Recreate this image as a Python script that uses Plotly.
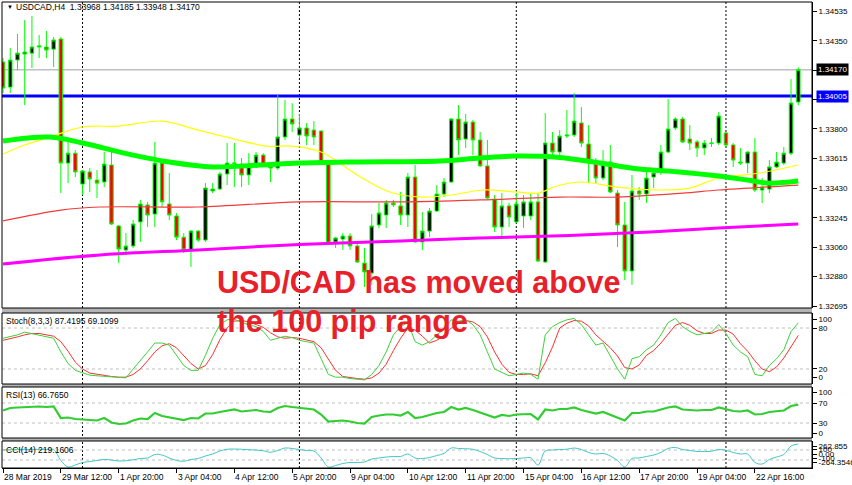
import plotly.graph_objects as go

# ---------------- data ----------------
bars = list(range(111))
opens = [1.34218,1.34061,1.34230,1.34267,1.34273,1.34311,1.34311,1.34298,1.34361,1.33587,
         1.33649,1.33456,1.33532,1.33481,1.33469,1.33575,1.33195,1.33045,1.33070,1.33220,
         1.33326,1.33269,1.33587,1.33332,1.33257,1.33125,1.33045,1.33163,1.33107,1.33413,
         1.33425,1.33519,1.33584,1.33581,1.33513,1.33563,1.33637,1.33569,1.33556,1.33750,
         1.33862,1.33762,1.33806,1.33793,1.33787,1.33587,1.33095,1.33113,1.33132,1.33070,
         1.32963,1.32901,1.33201,1.33263,1.33338,1.33320,1.33263,1.33500,1.33095,1.33163,
         1.33288,1.33394,1.33469,1.33862,1.33737,1.33843,1.33731,1.33569,1.33363,1.33188,
         1.33320,1.33220,1.33257,1.33257,1.33345,1.32970,1.33712,1.33656,1.33756,1.33762,
         1.33837,1.33706,1.33587,1.33494,1.33594,1.33400,1.33201,1.32914,1.33413,1.33394,
         1.33500,1.33538,1.33656,1.33806,1.33862,1.33737,1.33719,1.33681,1.33709,1.33712,
         1.33775,1.33700,1.33594,1.33587,1.33656,1.33419,1.33425,1.33563,1.33587,1.33649,
         1.33968]
highs = [1.34242,1.34305,1.34392,1.34479,1.34505,1.34386,1.34411,1.34373,1.34373,1.33731,
         1.33668,1.33544,1.33556,1.33544,1.33656,1.33681,1.33201,1.33150,1.33232,1.33357,
         1.33345,1.33719,1.33594,1.33525,1.33275,1.33150,1.33169,1.33169,1.33462,1.33462,
         1.33532,1.33712,1.33712,1.33619,1.33649,1.33656,1.33649,1.33575,1.34012,1.33980,
         1.33961,1.33893,1.33837,1.33849,1.33790,1.33590,1.33125,1.33150,1.33150,1.33088,
         1.33057,1.33269,1.33338,1.33357,1.33357,1.33407,1.33525,1.33575,1.33282,1.33307,
         1.33450,1.33494,1.33868,1.33949,1.33893,1.33856,1.33781,1.33731,1.33388,1.33400,
         1.33338,1.33400,1.33388,1.33400,1.33400,1.33899,1.33781,1.33793,1.33918,1.34024,
         1.33937,1.33824,1.33619,1.33668,1.33700,1.33419,1.33345,1.33513,1.33437,1.33532,
         1.33556,1.33700,1.33987,1.33874,1.33874,1.33824,1.33731,1.33731,1.33743,1.33905,
         1.33781,1.33712,1.33681,1.33660,1.33743,1.33494,1.33606,1.33656,1.33687,1.34111,
         1.34185]
lows = [1.34024,1.34024,1.34167,1.33949,1.34180,1.34242,1.34242,1.34186,1.33400,1.33462,
        1.33500,1.33388,1.33407,1.33369,1.33437,1.33201,1.32963,1.33014,1.33057,1.33095,
        1.33188,1.33188,1.33313,1.33232,1.33107,1.33026,1.32939,1.33095,1.33095,1.33400,
        1.33419,1.33450,1.33437,1.33437,1.33450,1.33556,1.33563,1.33469,1.33544,1.33731,
        1.33781,1.33719,1.33700,1.33700,1.33587,1.33076,1.33057,1.33045,1.33045,1.32963,
        1.32814,1.32827,1.33182,1.33182,1.33313,1.33201,1.33188,1.33090,1.33045,1.33125,
        1.33282,1.33375,1.33462,1.33637,1.33681,1.33637,1.33565,1.33363,1.33157,1.33120,
        1.33188,1.33213,1.33182,1.33232,1.32970,1.32963,1.33637,1.33637,1.33743,1.33750,
        1.33687,1.33462,1.33462,1.33481,1.33400,1.33063,1.32858,1.32827,1.33357,1.33338,
        1.33431,1.33513,1.33649,1.33793,1.33712,1.33668,1.33625,1.33637,1.33687,1.33700,
        1.33687,1.33563,1.33575,1.33525,1.33407,1.33338,1.33400,1.33556,1.33575,1.33637,
        1.33948]
closes = [1.34055,1.34230,1.34273,1.34280,1.34311,1.34318,1.34292,1.34355,1.33587,1.33649,
          1.33532,1.33538,1.33488,1.33462,1.33581,1.33207,1.33051,1.33070,1.33207,1.33332,
          1.33263,1.33587,1.33345,1.33263,1.33125,1.33045,1.33163,1.33107,1.33431,1.33425,
          1.33519,1.33587,1.33587,1.33513,1.33569,1.33637,1.33569,1.33556,1.33750,1.33862,
          1.33831,1.33806,1.33756,1.33750,1.33594,1.33088,1.33120,1.33132,1.33070,1.32970,
          1.32908,1.33195,1.33276,1.33338,1.33326,1.33263,1.33500,1.33095,1.33163,1.33288,
          1.33394,1.33469,1.33862,1.33731,1.33843,1.33731,1.33569,1.33369,1.33188,1.33320,
          1.33251,1.33332,1.33345,1.33345,1.32976,1.33712,1.33656,1.33756,1.33762,1.33849,
          1.33712,1.33587,1.33494,1.33594,1.33407,1.33201,1.32914,1.33413,1.33394,1.33494,
          1.33525,1.33656,1.33800,1.33862,1.33719,1.33712,1.33681,1.33712,1.33712,1.33881,
          1.33700,1.33606,1.33587,1.33656,1.33419,1.33437,1.33563,1.33594,1.33649,1.33962,
          1.34170]

# moving averages, read at sample bars
ma_green_x = [0, 6.5, 11, 18, 23, 29, 35.5, 41, 48.4, 60.4, 66, 71, 77, 82.6, 88, 93.6, 99, 103, 106, 110]
ma_green_y = [1.33725,1.33750,1.33712,1.33637,1.33594,1.33563,1.33575,1.33587,1.33594,1.33600,
              1.33619,1.33631,1.33622,1.33587,1.33550,1.33532,1.33506,1.33481,1.33462,1.33475]
ma_yellow_x = [0, 3, 6.5, 11, 16, 22, 27, 32, 36.5, 40, 44, 49, 53.5, 58, 62, 66.4, 71, 74, 76.6, 80, 85, 91, 95, 99, 104.7, 110]
ma_yellow_y = [1.33644,1.33700,1.33750,1.33812,1.33818,1.33849,1.33793,1.33737,1.33693,1.33693,
               1.33656,1.33513,1.33407,1.33375,1.33388,1.33419,1.33407,1.33400,1.33444,1.33469,
               1.33437,1.33419,1.33431,1.33494,1.33525,1.33575]
ma_red_x = [0, 8, 13.4, 27, 41, 55, 66, 77, 85, 94, 99, 110]
ma_red_y = [1.33226,1.33294,1.33313,1.33313,1.33345,1.33345,1.33357,1.33375,1.33375,1.33400,1.33419,1.33450]
ma_magenta_x = [0, 13.4, 27, 41, 55, 66, 78.4, 89.5, 99, 110]
ma_magenta_y = [1.32958,1.33014,1.33045,1.33079,1.33101,1.33120,1.33135,1.33157,1.33182,1.33207]

resistance_level = 1.34005
bid_level = 1.34170

stoch_k = [65,67,70,74,72,70,68,65,45,28,18,14,11,10,9,8,8,7,20,32,
           45,58,58,55,40,25,18,18,40,65,85,92,93,88,85,82,75,62,65,68,
           66,62,60,58,35,12,8,8,6,5,4,12,25,45,70,82,88,60,55,60,
           70,78,92,90,92,85,70,45,20,15,10,12,14,12,5,70,82,88,92,94,
           85,70,55,58,40,20,5,35,38,48,55,70,88,94,82,75,70,72,74,85,
           72,55,45,38,12,10,25,35,48,75,87.42]
stoch_d = [62,64,67,70,72,72,70,68,60,46,30,20,14,12,10,9,8,8,12,20,
           32,45,54,57,51,40,28,20,25,41,63,80,90,91,89,85,81,73,67,65,
           66,65,63,60,51,35,18,9,7,6,5,7,14,27,47,65,80,77,68,58,
           62,69,80,87,91,89,82,67,45,27,15,12,12,13,10,29,52,80,87,91,
           90,83,70,61,51,39,22,20,26,40,47,58,71,84,88,84,76,72,72,77,
           77,71,57,46,32,20,16,23,36,53,69.11]
rsi = [55,60,61,62,63,63,62,63,40,41,38,37,36,35,40,31,28,29,35,39,
       38,50,44,41,38,36,40,39,49,49,52,55,57,53,55,56,53,52,60,64,
       62,60,58,57,47,33,34,35,33,30,29,42,45,47,47,45,52,40,42,46,
       50,52,62,57,60,56,51,45,41,46,44,47,48,48,37,57,55,58,58,61,
       56,52,49,52,46,41,35,50,50,53,53,57,61,63,57,56,55,56,56,61,
       58,54,53,55,47,48,52,53,55,64,66.77]
cci = [100,105,110,110,112,112,110,110,-110,-240,-200,-150,-130,-110,-90,-100,-120,-115,-95,-70,
       -60,10,0,-60,-110,-125,-90,-70,-20,20,80,115,120,115,105,100,85,55,90,140,
       130,110,90,80,-60,-240,-210,-170,-150,-150,-140,-80,-60,-40,-30,-30,20,-60,-70,-50,
       -10,30,140,130,125,115,70,10,-60,-70,-75,-70,-60,-55,-200,80,100,110,115,140,
       110,50,20,30,-20,-110,-240,-70,-60,-30,0,50,130,150,110,90,70,70,75,110,
       95,50,20,20,-150,-180,-90,-40,10,180,219.16]

week_start_bars = [11, 41, 71, 100]
date_label_bars = [0, 8, 16, 24, 32, 40, 48, 56, 64, 72, 80, 88, 96, 104]
date_labels = ["28 Mar 2019", "29 Mar 12:00", "1 Apr 20:00", "3 Apr 04:00", "4 Apr 12:00",
               "5 Apr 20:00", "9 Apr 04:00", "10 Apr 12:00", "11 Apr 20:00", "15 Apr 04:00",
               "16 Apr 12:00", "17 Apr 20:00", "19 Apr 04:00", "22 Apr 16:00"]
price_ticks = [1.34535, 1.34350, 1.34165, 1.33985, 1.33800, 1.33615, 1.33430, 1.33245, 1.33060, 1.32880, 1.32695]
stoch_tick_vals = [93, 80, 20, 7.6]
stoch_tick_text = ["100", "80", "20", "0"]
rsi_tick_vals = [92, 70, 30, 10]
rsi_tick_text = ["100", "70", "30", "0"]
cci_tick_vals = [180, 120, 20, -60, -140]
cci_tick_text = ["262.855", "100", "0.00", "-100", "-264.3546"]

title_text = "USDCAD,H4  1.33968 1.34185 1.33948 1.34170"
stoch_label = "Stoch(8,3,3) 87.4195 69.1099"
rsi_label = "RSI(13) 66.7650"
cci_label = "CCI(14) 219.1606"
headline1 = "USD/CAD has moved above"
headline2 = "the 100 pip range"

# ---------------- layout helpers ----------------
W, H = 852, 485
ML, MR, MT, MB = 2, 40, 2, 17
PH = H - MT - MB
PW = W - ML - MR

def py(p):
    return (H - MB - p) / PH

def px(p):
    return (p - ML) / PW

FONT = "Liberation Sans"
GREEN = "#00FF00"

fig = go.Figure()

fig.add_trace(go.Candlestick(
    x=bars, open=opens, high=highs, low=lows, close=closes,
    increasing=dict(fillcolor="#000000", line=dict(color=GREEN, width=1)),
    decreasing=dict(fillcolor="#FF0000", line=dict(color=GREEN, width=1)),
    whiskerwidth=0, xaxis="x", yaxis="y", hoverinfo="skip", showlegend=False))

fig.add_trace(go.Scatter(x=ma_magenta_x, y=ma_magenta_y, mode="lines", line=dict(color="#FF00FF", width=3, shape="spline"),
                         yaxis="y", hoverinfo="skip", showlegend=False))
fig.add_trace(go.Scatter(x=ma_red_x, y=ma_red_y, mode="lines", line=dict(color="#F03C3C", width=1.2, shape="spline"),
                         yaxis="y", hoverinfo="skip", showlegend=False))
fig.add_trace(go.Scatter(x=ma_yellow_x, y=ma_yellow_y, mode="lines", line=dict(color="#FFFF00", width=1.2, shape="spline"),
                         yaxis="y", hoverinfo="skip", showlegend=False))
fig.add_trace(go.Scatter(x=ma_green_x, y=ma_green_y, mode="lines", line=dict(color=GREEN, width=5, shape="spline"),
                         yaxis="y", hoverinfo="skip", showlegend=False))

fig.add_trace(go.Scatter(x=bars, y=stoch_d, mode="lines", line=dict(color="#FF3030", width=1),
                         yaxis="y2", hoverinfo="skip", showlegend=False))
fig.add_trace(go.Scatter(x=bars, y=stoch_k, mode="lines", line=dict(color="#3CD23C", width=1),
                         yaxis="y2", hoverinfo="skip", showlegend=False))
fig.add_trace(go.Scatter(x=bars, y=rsi, mode="lines", line=dict(color="#32CD32", width=2.2),
                         yaxis="y3", hoverinfo="skip", showlegend=False))
fig.add_trace(go.Scatter(x=bars, y=cci, mode="lines", line=dict(color="#40C8C8", width=1, shape="spline"),
                         yaxis="y4", hoverinfo="skip", showlegend=False))

ax_common = dict(side="right", anchor="x", showgrid=False, zeroline=False, showline=True,
                 linecolor="#000000", linewidth=1, ticks="outside", ticklen=4, tickcolor="#000000",
                 tickfont=dict(family=FONT, size=8, color="#000000"), fixedrange=True)

fig.update_layout(
    width=W, height=H, margin=dict(l=ML, r=MR, t=MT, b=MB, autoexpand=False),
    paper_bgcolor="#FFFFFF", plot_bgcolor="#FFFFFF",
    font=dict(family=FONT, color="#000000"),
    showlegend=False, boxgap=0.3,
    xaxis=dict(domain=[0, 1], range=[-0.14, 111.9], anchor="y4", showgrid=False, zeroline=False,
               showline=True, linecolor="#000000", ticks="outside", ticklen=4, tickcolor="#000000",
               tickvals=date_label_bars, showticklabels=False, rangeslider=dict(visible=False),
               fixedrange=True),
    yaxis=dict(domain=[py(308), 1], range=[1.32683, 1.34592], tickvals=price_ticks,
               ticktext=[f"{v:.5f}" for v in price_ticks], **ax_common),
    yaxis2=dict(domain=[py(384), py(313)], range=[-2, 102], tickvals=stoch_tick_vals,
                ticktext=stoch_tick_text, **ax_common),
    yaxis3=dict(domain=[py(438), py(387)], range=[0, 102], tickvals=rsi_tick_vals,
                ticktext=rsi_tick_text, **ax_common),
    yaxis4=dict(domain=[0, py(441)], range=[-260, 280], tickvals=cci_tick_vals,
                ticktext=cci_tick_text, **ax_common),
)

shapes = []
# separators between panels
for top, bot in [(308, 313), (384, 387), (438, 441)]:
    shapes.append(dict(type="rect", xref="paper", yref="paper", x0=0, x1=1, y0=py(bot), y1=py(top),
                       fillcolor="#B4B4B4", line=dict(width=0), layer="above"))
# panel borders
for top, bot in [(2, 308), (313, 384), (387, 438), (441, 468)]:
    shapes.append(dict(type="rect", xref="paper", yref="paper", x0=0, x1=1, y0=py(bot), y1=py(top),
                       line=dict(color="#000000", width=1), fillcolor="rgba(0,0,0,0)", layer="above"))
# week separators
for b in week_start_bars:
    shapes.append(dict(type="line", xref="x", yref="paper", x0=b, x1=b, y0=0, y1=1,
                       line=dict(color="#000000", width=1, dash="2px,2px"), layer="below"))
# indicator levels
for yr, lv in [("y2", 80), ("y2", 20), ("y3", 70), ("y3", 30), ("y4", 100), ("y4", -100)]:
    shapes.append(dict(type="line", xref="paper", yref=yr, x0=0, x1=1, y0=lv, y1=lv,
                       line=dict(color="#C0C0C0", width=1, dash="3px,3px"), layer="below"))
# horizontal price lines
shapes.append(dict(type="line", xref="paper", yref="y", x0=0, x1=1, y0=bid_level, y1=bid_level,
                   line=dict(color="#C0C0C8", width=1.5), layer="below"))
shapes.append(dict(type="line", xref="paper", yref="y", x0=0, x1=1, y0=resistance_level, y1=resistance_level,
                   line=dict(color="#0000FF", width=3), layer="below"))
fig.update_layout(shapes=shapes)

ann = []
ann.append(dict(text="\u25BC", xref="paper", yref="paper", x=px(5), y=py(7.5), xanchor="left", yanchor="middle",
                showarrow=False, font=dict(size=6, color="#000000")))
ann.append(dict(text=title_text, xref="paper", yref="paper", x=px(14), y=py(7.5), xanchor="left", yanchor="middle",
                showarrow=False, font=dict(family=FONT, size=8.5, color="#000000")))
for lbl, yy in [(stoch_label, 321), (rsi_label, 395), (cci_label, 450)]:
    ann.append(dict(text=lbl, xref="paper", yref="paper", x=px(4), y=py(yy), xanchor="left", yanchor="middle",
                    showarrow=False, font=dict(family=FONT, size=8.5, color="#000000")))
for b, t in zip(date_label_bars, date_labels):
    ann.append(dict(text=t, xref="x", yref="paper", x=b, y=py(477.5), xanchor="left", yanchor="middle",
                    xshift=-1, showarrow=False, font=dict(family=FONT, size=8.5, color="#000000")))
ann.append(dict(text="<b>" + headline1 + "</b>", xref="paper", yref="paper", x=px(215), y=py(281.5),
                xanchor="left", yanchor="middle",
                showarrow=False, font=dict(family=FONT, size=30.5, color="#E8202A")))
ann.append(dict(text="<b>" + headline2 + "</b>", xref="paper", yref="paper", x=px(215), y=py(321.5),
                xanchor="left", yanchor="middle",
                showarrow=False, font=dict(family=FONT, size=30.5, color="#E8202A")))
for lv, bg in [(bid_level, "#000000"), (resistance_level, "#0000FF")]:
    ann.append(dict(text=f"{lv:.5f}", xref="paper", yref="y", x=px(816), y=lv, xanchor="left", yanchor="middle",
                    showarrow=False, bgcolor=bg, borderpad=1, font=dict(family=FONT, size=8, color="#FFFFFF")))
fig.update_layout(annotations=ann)

fig.write_html("out.html", config={"displayModeBar": False, "staticPlot": True},
               post_script="document.body.style.margin='0';document.body.style.overflow='hidden';")
